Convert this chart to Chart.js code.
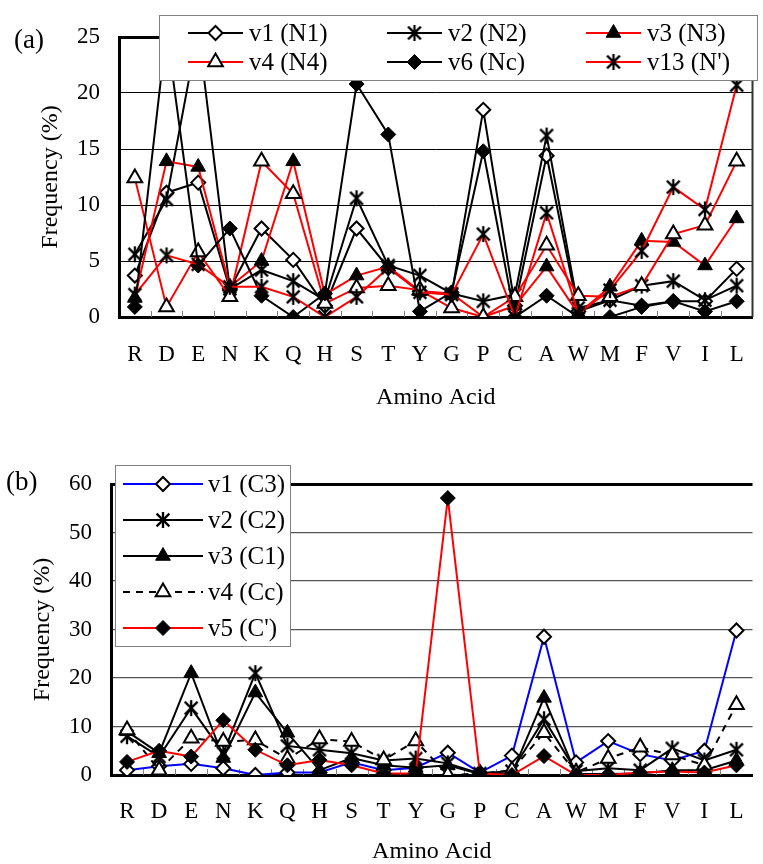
<!DOCTYPE html>
<html lang="en">
<head>
<meta charset="UTF-8">
<title>Amino acid frequency at N- and C-terminal sites</title>
<script src="https://cdn.jsdelivr.net/npm/chart.js"></script>
<style>
  body { margin: 0; background: #fff; }
  canvas { display: block; }
</style>
</head>
<body>
<canvas id="chartA" width="763" height="432"></canvas>
<canvas id="chartB" width="763" height="432"></canvas>
<script>
// categories (x axis)
const aminoAcids = ['R','D','E','N','K','Q','H','S','T','Y','G','P','C','A','W','M','F','V','I','L'];

// panel (a): N-side sites, frequency in %
const n1     = [3.7, 11.1, 12.0, 2.5, 7.9, 5.1, 1.0, 7.9, 4.4, 2.3, 2.0, 18.5, 1.0, 14.4, 0.5, 1.5, 1.0, 1.4, 1.4, 4.3];
const n2     = [5.6, 10.5, 25.6, 2.5, 4.2, 3.2, 1.5, 10.6, 4.6, 3.7, 2.1, 1.4, 2.0, 16.2, 0.8, 1.5, 2.8, 3.2, 1.5, 2.8];
const n3     = [1.7, 13.9, 13.4, 2.7, 5.0, 13.9, 2.0, 3.7, 4.5, 2.3, 2.1, 0.0, 1.0, 4.5, 0.3, 2.7, 6.8, 6.7, 4.6, 8.8];
const n4     = [12.4, 0.9, 5.8, 1.8, 13.9, 11.0, 1.2, 2.6, 2.8, 2.4, 0.8, 0.0, 1.8, 6.4, 1.9, 1.8, 2.8, 7.4, 8.2, 13.9];
const nc     = [0.9, 25.6, 4.6, 7.9, 1.9, 0.0, 2.1, 20.8, 16.3, 0.5, 2.2, 14.8, 0.0, 1.9, 0.0, 0.0, 0.9, 1.4, 0.5, 1.4];
const nPrime = [2.0, 5.5, 4.7, 2.7, 2.7, 1.8, 0.0, 1.8, 4.4, 2.2, 2.0, 7.4, 0.0, 9.3, 0.3, 2.4, 5.9, 11.6, 9.6, 20.7];

// panel (b): C-side sites, frequency in %
const c3     = [1.0, 1.8, 2.3, 1.4, 0.0, 0.5, 0.5, 2.6, 1.0, 1.5, 4.6, 0.5, 4.0, 28.5, 2.6, 7.0, 4.3, 3.0, 5.0, 29.8];
const c2     = [8.0, 3.8, 13.8, 4.5, 21.0, 6.0, 5.2, 4.5, 3.0, 3.4, 2.4, 0.3, 0.8, 11.5, 0.8, 1.4, 1.0, 5.5, 3.0, 5.2];
const c1     = [9.0, 4.5, 21.0, 3.5, 17.0, 8.7, 1.0, 3.5, 2.0, 1.5, 2.0, 0.2, 0.3, 15.9, 0.2, 0.2, 0.3, 1.0, 1.0, 3.0];
const cc     = [9.3, 1.0, 7.6, 6.9, 7.2, 3.3, 7.4, 6.9, 3.1, 7.0, 0.0, 0.3, 1.0, 8.7, 0.5, 3.4, 5.7, 4.1, 2.0, 14.5];
const cPrime = [2.7, 5.0, 3.8, 11.3, 5.2, 2.0, 3.1, 2.0, 0.3, 0.3, 57.1, 0.3, 0.0, 3.9, 0.0, 0.0, 0.5, 0.7, 0.5, 2.0];

// y axis ranges
const yMaxA = 25, yStepA = 5;
const yMaxB = 60, yStepB = 10;

const FONT = '"Liberation Serif", "Times New Roman", serif';
const tickFont = { family: FONT, size: 23, lineHeight: 1 };
const titleFont = { family: FONT, size: 24, lineHeight: 1 };

// asterisk marker: X with a vertical bar
function makeStar(size, lw) {
  const c = document.createElement('canvas');
  c.width = size; c.height = size;
  const g = c.getContext('2d');
  const m = size / 2, r = size / 2 - 1, d = r * 0.8;
  g.strokeStyle = '#000';
  g.lineWidth = lw;
  g.beginPath();
  g.moveTo(m - d, m - d); g.lineTo(m + d, m + d);
  g.moveTo(m + d, m - d); g.lineTo(m - d, m + d);
  g.moveTo(m, m - r); g.lineTo(m, m + r);
  g.stroke();
  return c;
}
const starImg = makeStar(18, 2.3);

const markers = {
  openDiamond:   { style: 'rectRot', r: 7, fill: '#fff', bw: 2 },
  filledDiamond: { style: 'rectRot', r: 7.5, fill: '#000', bw: 1 },
  openTri:       { style: 'triangle', r: 8.5, fill: '#fff', bw: 2 },
  filledTri:     { style: 'triangle', r: 8.5, fill: '#000', bw: 1 },
  star:          { style: starImg, r: 9, fill: '#000', bw: 0 }
};

function series(label, data, color, m, extra) {
  return Object.assign({
    label: label,
    data: data,
    borderColor: color,
    borderWidth: 2,
    tension: 0,
    pointStyle: m.style,
    pointRadius: m.r,
    pointHoverRadius: m.r,
    pointBackgroundColor: m.fill,
    pointBorderColor: '#000',
    pointBorderWidth: m.bw
  }, extra || {});
}

function drawMarker(ctx, ds, x, y) {
  if (ds.pointStyle instanceof HTMLCanvasElement) {
    ctx.drawImage(ds.pointStyle, x - ds.pointStyle.width / 2, y - ds.pointStyle.height / 2);
    return;
  }
  ctx.fillStyle = ds.pointBackgroundColor;
  ctx.strokeStyle = ds.pointBorderColor;
  ctx.lineWidth = ds.pointBorderWidth;
  Chart.helpers.drawPoint(ctx, {
    pointStyle: ds.pointStyle, radius: ds.pointRadius, rotation: 0, borderWidth: ds.pointBorderWidth
  }, x, y);
}

// legend in a framed white box drawn over the plot
const boxLegend = {
  id: 'boxLegend',
  afterDraw(chart, args, o) {
    const ctx = chart.ctx;
    ctx.save();
    ctx.fillStyle = '#fff';
    ctx.fillRect(o.x, o.y, o.w, o.h);
    ctx.strokeStyle = '#808080';
    ctx.lineWidth = 1;
    ctx.strokeRect(o.x + 0.5, o.y + 0.5, o.w, o.h);
    ctx.font = o.size + 'px ' + FONT;
    ctx.textBaseline = 'middle';
    ctx.textAlign = 'left';
    chart.data.datasets.forEach((ds, i) => {
      const col = i % o.cols, row = Math.floor(i / o.cols);
      const x0 = o.x + o.padX + col * o.colW;
      const y = o.y + o.padY + row * o.rowH;
      ctx.strokeStyle = ds.borderColor;
      ctx.lineWidth = 2;
      ctx.setLineDash(ds.borderDash || []);
      ctx.beginPath();
      ctx.moveTo(x0, y);
      ctx.lineTo(x0 + o.lineW, y);
      ctx.stroke();
      ctx.setLineDash([]);
      drawMarker(ctx, ds, x0 + o.lineW / 2, y);
      ctx.fillStyle = '#000';
      ctx.fillText(ds.label, x0 + o.lineW + o.gap, y + 1);
    });
    ctx.restore();
  }
};

// small inward tick marks between categories, optional right frame
const axisExtras = {
  id: 'axisExtras',
  beforeDatasetsDraw(chart, args, o) {
    const ctx = chart.ctx, xs = chart.scales.x, a = chart.chartArea;
    const half = (xs.getPixelForTick(1) - xs.getPixelForTick(0)) / 2;
    ctx.save();
    ctx.strokeStyle = '#808080';
    ctx.lineWidth = 1;
    ctx.beginPath();
    for (let i = 1; i < xs.ticks.length; i++) {
      const px = Math.round(xs.getPixelForTick(i) - half) + 0.5;
      ctx.moveTo(px, a.bottom);
      ctx.lineTo(px, a.bottom - 6);
    }
    ctx.stroke();
    if (o.frameRight) {
      ctx.strokeStyle = '#333';
      ctx.lineWidth = 2;
      ctx.beginPath();
      ctx.moveTo(a.right, a.top);
      ctx.lineTo(a.right, a.bottom);
      ctx.stroke();
    }
    ctx.restore();
  }
};

const panelTag = {
  id: 'panelTag',
  afterDraw(chart, args, o) {
    const ctx = chart.ctx;
    ctx.save();
    ctx.font = '27px ' + FONT;
    ctx.fillStyle = '#000';
    ctx.textBaseline = 'middle';
    ctx.fillText(o.text, o.x, o.y);
    ctx.restore();
  }
};

function buildOptions(p) {
  return {
    responsive: false,
    animation: false,
    events: [],
    layout: { padding: { top: p.top, right: 6, left: 0, bottom: 0 } },
    plugins: {
      legend: { display: false },
      tooltip: { enabled: false },
      boxLegend: p.legend,
      axisExtras: { frameRight: p.frameRight },
      panelTag: p.tag
    },
    scales: {
      x: {
        offset: true,
        ticks: { padding: p.xTickPad, color: '#000', font: tickFont, autoSkip: false, maxRotation: 0 },
        grid: { drawOnChartArea: false, drawTicks: false },
        border: { color: '#000', width: 3 },
        title: { display: true, text: 'Amino Acid', color: '#000', font: titleFont,
                 padding: { top: 0, bottom: p.xTitlePad } },
        afterFit: s => { s.height = p.xHeight; s.paddingLeft = 0; s.paddingRight = 0; }
      },
      y: {
        min: 0,
        max: p.yMax,
        ticks: { stepSize: p.yStep, padding: 19, color: '#000', font: tickFont },
        grid: {
          drawTicks: false,
          color: c => (c.tick && c.tick.value === p.yMax) ? '#000' : p.gridColor,
          lineWidth: c => (c.tick && c.tick.value === p.yMax) ? 3 : p.gridWidth
        },
        border: { color: '#000', width: 3 },
        title: { display: true, text: 'Frequency (%)', color: '#000', font: titleFont,
                 padding: { top: p.yTitlePad, bottom: 0 } },
        afterFit: s => { s.width = p.yWidth; }
      }
    }
  };
}

function withOrder(list) {
  // later series painted over earlier ones
  return list.map((ds, i) => Object.assign(ds, { order: list.length - i }));
}

const RED = '#ff0000', BLACK = '#000000', BLUE = '#0000ff';

new Chart(document.getElementById('chartA'), {
  type: 'line',
  data: {
    labels: aminoAcids,
    datasets: withOrder([
      series('v1 (N1)', n1, BLACK, markers.openDiamond),
      series('v2 (N2)', n2, BLACK, markers.star),
      series('v3 (N3)', n3, RED, markers.filledTri),
      series('v4 (N4)', n4, RED, markers.openTri),
      series('v6 (Nc)', nc, BLACK, markers.filledDiamond),
      series("v13 (N')", nPrime, RED, markers.star)
    ])
  },
  options: buildOptions({
    top: 37, yWidth: 119, xHeight: 115, xTickPad: 26.5, xTitlePad: 22, yTitlePad: 39,
    yMax: yMaxA, yStep: yStepA, gridColor: '#000', gridWidth: 1, frameRight: true,
    legend: { x: 159, y: 15, w: 598, h: 65, cols: 3, colW: 199, padX: 29, padY: 18, rowH: 29, lineW: 55, gap: 6, size: 25 },
    tag: { text: '(a)', x: 14, y: 41 }
  }),
  plugins: [axisExtras, boxLegend, panelTag]
});

new Chart(document.getElementById('chartB'), {
  type: 'line',
  data: {
    labels: aminoAcids,
    datasets: withOrder([
      series('v1 (C3)', c3, BLUE, markers.openDiamond),
      series('v2 (C2)', c2, BLACK, markers.star),
      series('v3 (C1)', c1, BLACK, markers.filledTri),
      series('v4 (Cc)', cc, BLACK, markers.openTri, { borderDash: [7, 6] }),
      series("v5 (C')", cPrime, RED, markers.filledDiamond)
    ])
  },
  options: buildOptions({
    top: 52, yWidth: 111, xHeight: 89, xTickPad: 25.5, xTitlePad: 0, yTitlePad: 31,
    yMax: yMaxB, yStep: yStepB, gridColor: '#555', gridWidth: 1.3, frameRight: false,
    legend: { x: 115, y: 33, w: 175, h: 181, cols: 1, colW: 0, padX: 8, padY: 19, rowH: 36, lineW: 80, gap: 5, size: 25 },
    tag: { text: '(b)', x: 6, y: 51 }
  }),
  plugins: [axisExtras, boxLegend, panelTag]
});
</script>
</body>
</html>
